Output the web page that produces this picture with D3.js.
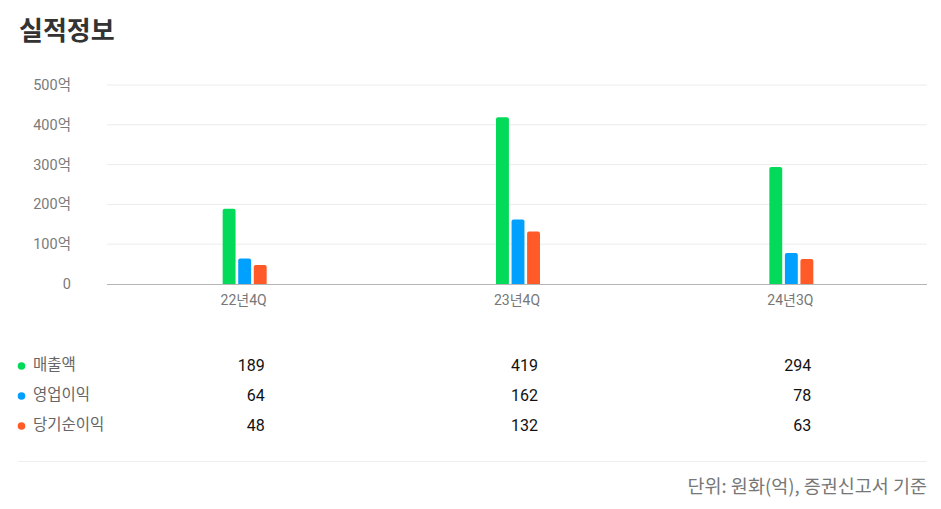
<!DOCTYPE html>
<html>
<head>
<meta charset="utf-8">
<script src="https://cdn.jsdelivr.net/npm/d3@7"></script>
<style>
  body { margin: 0; background: #fff; font-family: Roboto, "Noto Sans CJK KR", sans-serif; }
</style>
</head>
<body>
<div id="chart"></div>
<script>
const periods = ["22년4Q", "23년4Q", "24년3Q"];
const seriesNames = ["매출액", "영업이익", "당기순이익"];
const revenue = [189, 419, 294];
const operatingProfit = [64, 162, 78];
const netProfit = [48, 132, 63];
const yTicks = [0, 100, 200, 300, 400, 500];
const seriesColors = ["#03DA5A", "#00A0FF", "#FF5A27"];

const series = [revenue, operatingProfit, netProfit];

const width = 941, height = 509;
const margin = { top: 85, left: 107, right: 14, bottom: 225 };
const plotH = height - margin.top - margin.bottom;

const svg = d3.select("#chart").append("svg")
    .attr("width", width)
    .attr("height", height);

svg.append("text")
    .attr("x", 19)
    .attr("y", 40)
    .attr("font-size", 26)
    .attr("font-weight", 700)
    .attr("font-family", "'Noto Sans CJK KR', sans-serif")
    .attr("fill", "#333")
    .text("실적정보");

const x = d3.scaleBand()
    .domain(periods)
    .range([margin.left, width - margin.right]);

const x1 = d3.scaleBand()
    .domain(d3.range(series.length))
    .range([-21, 23])
    .paddingInner(0.17);

const y = d3.scaleLinear()
    .domain([0, 500])
    .range([margin.top + plotH, margin.top]);

// grid
svg.append("g")
    .selectAll("line")
    .data(yTicks.filter(d => d > 0))
    .enter()
    .append("line")
    .attr("x1", margin.left)
    .attr("x2", width - margin.right)
    .attr("y1", d => y(d))
    .attr("y2", d => y(d))
    .attr("stroke", "#ececef")
    .attr("stroke-width", 1);

// y labels
svg.append("g")
    .selectAll("text")
    .data(yTicks)
    .enter()
    .append("text")
    .attr("x", 71)
    .attr("y", d => y(d))
    .attr("dy", "0.35em")
    .attr("text-anchor", "end")
    .attr("font-size", 14.5)
    .attr("fill", "#7a7a7a")
    .text(d => d === 0 ? "0" : d + "억");

// bars
const groups = svg.append("g")
    .selectAll("g")
    .data(periods)
    .enter()
    .append("g")
    .attr("transform", d => `translate(${x(d) + x.bandwidth() / 2},0)`);

groups.selectAll("path")
    .data((d, i) => series.map((s, k) => ({ k: k, v: s[i] })))
    .enter()
    .append("path")
    .attr("fill", d => seriesColors[d.k])
    .attr("d", d => {
        const x0 = x1(d.k), w = x1.bandwidth();
        const top = y(d.v), bot = y(0), r = 2;
        return `M${x0},${bot}V${top + r}Q${x0},${top} ${x0 + r},${top}H${x0 + w - r}Q${x0 + w},${top} ${x0 + w},${top + r}V${bot}Z`;
    });

// baseline
svg.append("line")
    .attr("x1", margin.left)
    .attr("x2", width - margin.right)
    .attr("y1", y(0) + 0.5)
    .attr("y2", y(0) + 0.5)
    .attr("stroke", "#b5b5b5");

// x labels
svg.append("g")
    .selectAll("text")
    .data(periods)
    .enter()
    .append("text")
    .attr("x", d => x(d) + x.bandwidth() / 2)
    .attr("y", 305)
    .attr("text-anchor", "middle")
    .attr("font-size", 14)
    .attr("fill", "#777")
    .text(d => d);

// table legend
const rowY = d3.scalePoint().domain(seriesNames).range([365, 425]);

const rows = svg.append("g")
    .selectAll("g")
    .data(seriesNames)
    .enter()
    .append("g")
    .attr("transform", d => `translate(0,${rowY(d)})`);

rows.append("circle")
    .attr("cx", 21.5)
    .attr("cy", 1)
    .attr("r", 3.8)
    .attr("fill", (d, i) => seriesColors[i]);

rows.append("text")
    .attr("x", 33)
    .attr("dy", "0.35em")
    .attr("font-size", 15.5)
    .attr("fill", "#666")
    .attr("font-family", "'Noto Sans CJK KR', sans-serif")
    .text(d => d);

rows.each(function (name, i) {
    d3.select(this).selectAll(".val")
        .data(series[i])
        .enter()
        .append("text")
        .attr("class", "val")
        .attr("x", (d, j) => x(periods[j]) + x.bandwidth() / 2 + 21)
        .attr("dy", "0.35em")
        .attr("text-anchor", "end")
        .attr("font-size", 16)
        .attr("fill", "#111")
        .text(d => d);
});

svg.append("line")
    .attr("x1", 18)
    .attr("x2", width - margin.right)
    .attr("y1", 461.5)
    .attr("y2", 461.5)
    .attr("stroke", "#eeeeee");

svg.append("text")
    .attr("x", 927)
    .attr("y", 487)
    .attr("dy", "0.35em")
    .attr("text-anchor", "end")
    .attr("font-size", 18.5)
    .attr("fill", "#777")
    .attr("font-family", "'Noto Sans CJK KR', sans-serif")
    .text("단위: 원화(억), 증권신고서 기준");
</script>
</body>
</html>
